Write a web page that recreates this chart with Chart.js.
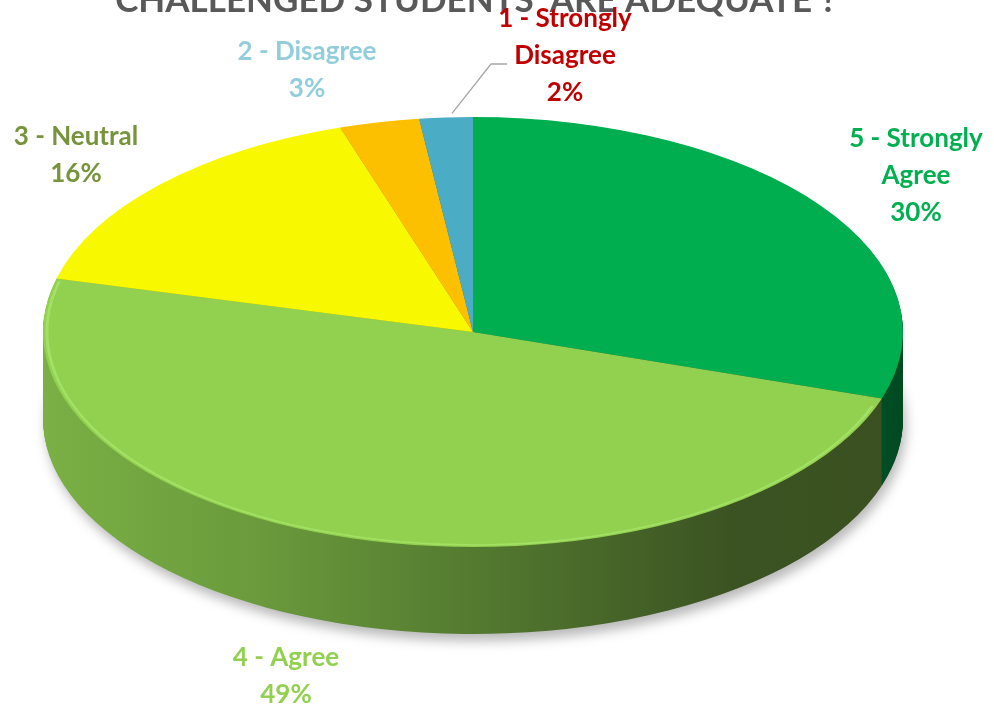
<!DOCTYPE html>
<html>
<head>
<meta charset="utf-8">
<script src="https://cdn.jsdelivr.net/npm/chart.js@4/dist/chart.umd.min.js"></script>
<style>
  html, body { margin: 0; padding: 0; background: #fff; }
  #wrap { width: 994px; height: 711px; position: relative; }
</style>
</head>
<body>
<div id="wrap"><canvas id="pieChart"></canvas></div>
<script>
/* ── Data ── */
const categories = ["5 - Strongly Agree", "4 - Agree", "3 - Neutral", "2 - Disagree", "1 - Strongly Disagree"];
const percentages = [30, 49, 16, 3, 2];
const titleText = "CHALLENGED STUDENTS' ARE ADEQUATE ?";

/* ── Styles ── */
const topColors = ["#00ad4f", "#92d050", "#f8f800", "#fcc000", "#4bacc6"];
const labelColors = ["#00b050", "#92d050", "#77933c", "#92cddc", "#c00000"];
const sideStops = [
  [[0, "#007a3a"], [0.8, "#005c2c"], [1, "#004a22"]],
  [[0, "#7ab044"], [0.25, "#6a9a3c"], [0.5, "#547a30"], [0.8, "#3b5322"], [1, "#3a5020"]],
  [[0, "#b8b800"], [1, "#8a8a00"]],
  [[0, "#b88a00"], [1, "#8a6800"]],
  [[0, "#357a8c"], [1, "#2a6070"]],
];
// label anchor (centre of first line) for each slice
const labelAnchors = [[916, 139], [286, 658], [76, 137], [307, 52], [565, 19]];
const LINE_H = 37;
const FONT = "bold 26px Lato";
const DEPTH = 87;
const TILT = 0.5;

function tilt(ctx, cx, cy) {
  ctx.translate(cx, cy);
  ctx.scale(1, TILT);
  ctx.translate(-cx, -cy);
}

function wrap(ctx, text, maxW) {
  const words = text.split(" ");
  const lines = [];
  let cur = "";
  words.forEach((w) => {
    const t = cur ? cur + " " + w : w;
    if (cur && ctx.measureText(t).width > maxW) {
      lines.push(cur);
      cur = w;
    } else cur = t;
  });
  lines.push(cur);
  return lines;
}

const pie3d = {
  id: "pie3d",
  beforeDatasetsDraw(chart) {
    const ctx = chart.ctx;
    const arcs = chart.getDatasetMeta(0).data;
    const { x, y, outerRadius: r } = arcs[0];
    const sides = arcs.map((a, i) => {
      const g = ctx.createLinearGradient(x - r, 0, x + r, 0);
      sideStops[i].forEach(([p, c]) => g.addColorStop(p, c));
      return g;
    });
    for (let d = DEPTH; d > 0; d--) {
      ctx.save();
      if (d === DEPTH) {
        ctx.shadowColor = "rgba(0,0,0,0.28)";
        ctx.shadowBlur = 12;
        ctx.shadowOffsetX = 3;
        ctx.shadowOffsetY = 7;
      }
      ctx.translate(0, d);
      tilt(ctx, x, y);
      arcs.forEach((a, i) => {
        ctx.beginPath();
        ctx.moveTo(x, y);
        ctx.arc(x, y, r, a.startAngle, a.endAngle);
        ctx.closePath();
        ctx.fillStyle = sides[i];
        ctx.fill();
      });
      ctx.restore();
    }
    ctx.save();
    tilt(ctx, x, y);
  },
  afterDatasetsDraw(chart) {
    const ctx = chart.ctx;
    const arcs = chart.getDatasetMeta(0).data;
    const { x, y, outerRadius: r } = arcs[0];
    // bevel highlight on the front rim of the "Agree" slice
    const g = arcs[1];
    ctx.beginPath();
    ctx.arc(x, y, r - 4, g.startAngle + 0.04, g.endAngle - 0.01);
    ctx.strokeStyle = "rgba(170,232,110,0.7)";
    ctx.lineWidth = 3;
    ctx.stroke();
    ctx.restore();

    // title (cut by the top edge)
    ctx.save();
    ctx.font = "bold 35px Lato";
    ctx.fillStyle = "#595959";
    ctx.textAlign = "center";
    ctx.textBaseline = "alphabetic";
    ctx.fillText(titleText, 476, 12);
    ctx.restore();

    // leader line for the small blue slice
    const b = arcs[4];
    const mid = (b.startAngle + b.endAngle) / 2;
    const sx = x + r * Math.cos(mid) + 6;
    const sy = y + r * TILT * Math.sin(mid) - 4;
    ctx.save();
    ctx.beginPath();
    ctx.moveTo(sx, sy);
    ctx.lineTo(491, 64);
    ctx.lineTo(507, 64);
    ctx.strokeStyle = "#a6a6a6";
    ctx.lineWidth = 1.3;
    ctx.stroke();
    ctx.restore();

    // data labels
    ctx.save();
    ctx.font = FONT;
    ctx.textAlign = "center";
    ctx.textBaseline = "middle";
    categories.forEach((c, i) => {
      const lines = wrap(ctx, c, 175).concat([percentages[i] + "%"]);
      const [lx, ly] = labelAnchors[i];
      ctx.fillStyle = labelColors[i];
      lines.forEach((t, k) => ctx.fillText(t, lx, ly + k * LINE_H));
    });
    ctx.restore();
  },
};

new Chart(document.getElementById("pieChart"), {
  type: "pie",
  data: {
    labels: categories,
    datasets: [
      {
        data: percentages,
        backgroundColor: topColors,
        borderWidth: 0,
        radius: 430,
        clip: false,
      },
    ],
  },
  options: {
    responsive: true,
    maintainAspectRatio: false,
    animation: false,
    events: [],
    layout: { padding: { left: 0, right: 48, top: 0, bottom: 47 } },
    plugins: {
      legend: { display: false },
      tooltip: { enabled: false },
    },
  },
  plugins: [pie3d],
});
</script>
</body>
</html>
